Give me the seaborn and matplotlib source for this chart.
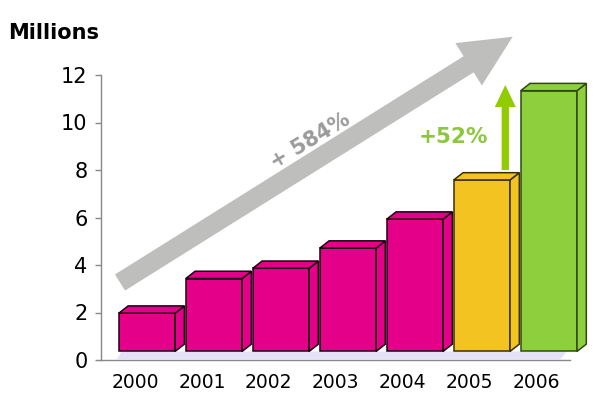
import matplotlib
matplotlib.use("Agg")
import matplotlib.pyplot as plt
import seaborn as sns
import numpy as np
import pandas as pd
from matplotlib.patches import Polygon, FancyArrow

# ---- data ----
years = ["2000", "2001", "2002", "2003", "2004", "2005", "2006"]
values = [1.61, 3.07, 3.50, 4.35, 5.57, 7.22, 10.98]
bar_colors = ["#E5008A", "#E5008A", "#E5008A", "#E5008A", "#E5008A", "#F3C421", "#8ECF3E"]
edge_colors = ["#1a0010", "#1a0010", "#1a0010", "#1a0010", "#1a0010", "#3a2e00", "#2f4a10"]
y_ticks = [0, 2, 4, 6, 8, 10, 12]
total_growth_label = "+ 584%"
last_growth_label = "+52%"
unit_label = "Millions"

sns.set_style("white")
plt.rcParams["font.family"] = ["DejaVu Sans"]

W, H = 600, 401
fig = plt.figure(figsize=(6, 4.01), dpi=100)
ax = fig.add_axes([101.4 / W, 41 / H, (570.3 - 101.4) / W, 285 / H])

df = pd.DataFrame({"year": years, "value": values})
sns.barplot(data=df, x="year", y="value", hue="year", palette=bar_colors,
            legend=False, width=0.84, ax=ax, linewidth=1.1, saturation=1)

floor = 0.36      # 3D floor height
shift = 0.18      # front face offset
ddx = 0.139       # depth offset x (category units)
ddy = 0.307       # depth offset y (data units)

for i, p in enumerate(list(ax.patches)):
    x0 = p.get_x() + shift
    w = p.get_width()
    h = p.get_height()
    p.set_x(x0)
    p.set_y(floor)
    p.set_edgecolor(edge_colors[i])
    p.set_zorder(3)
    p.set_clip_on(False)
    top = floor + h
    col = bar_colors[i]
    side = Polygon([(x0 + w, floor), (x0 + w + ddx, floor + ddy),
                    (x0 + w + ddx, top + ddy), (x0 + w, top)],
                   closed=True, facecolor=col, edgecolor=edge_colors[i], lw=1.1,
                   zorder=3, clip_on=False)
    topf = Polygon([(x0, top), (x0 + ddx, top + ddy), (x0 + w + ddx, top + ddy),
                    (x0 + w, top)],
                   closed=True, facecolor=col, edgecolor=edge_colors[i], lw=1.1,
                   zorder=3, clip_on=False)
    ax.add_patch(side)
    ax.add_patch(topf)

# floor shadow
shadow = Polygon([(-0.27, 0.03), (6.35, 0.03), (6.45, floor), (-0.2, floor)],
                 closed=True, facecolor="#DCD8F6", edgecolor="none", alpha=0.75,
                 zorder=1, clip_on=False)
ax.add_patch(shadow)

ax.set_xlim(-0.5, 6.5)
ax.set_ylim(0, 12)
ax.set_yticks(y_ticks)
ax.set_yticklabels([str(t) for t in y_ticks], fontsize=15, color="black")
ax.set_xticks(range(len(years)))
ax.set_xticklabels(years, fontsize=13.5, color="black")
ax.set_xticks(np.arange(-0.5, len(years), 1), minor=True)
ax.tick_params(axis="x", which="major", length=0, pad=9, labelcolor="black")
ax.tick_params(axis="x", which="minor", length=5, width=1, color="#888888", direction="out")
ax.tick_params(axis="y", which="major", length=4, width=1, color="#888888", direction="out",
               pad=6, left=True, labelcolor="black")
ax.set_xlabel("")
ax.set_ylabel("")
for s in ["top", "right"]:
    ax.spines[s].set_visible(False)
for s in ["left", "bottom"]:
    ax.spines[s].set_color("#888888")
    ax.spines[s].set_linewidth(1)
ax.grid(False)
ax.set_facecolor("none")

# overlay for annotation arrows (pixel coordinates)
ov = fig.add_axes([0, 0, 1, 1], zorder=5)
ov.set_xlim(0, W)
ov.set_ylim(H, 0)
ov.axis("off")
ov.patch.set_alpha(0)

tail = (120, 282.5)
tip = (512.7, 36.7)
ov.add_patch(FancyArrow(tail[0], tail[1], tip[0] - tail[0], tip[1] - tail[1],
                        width=19, head_width=50, head_length=52,
                        length_includes_head=True, color="#BEBFBD", lw=0))
ov.text(310, 141, total_growth_label, rotation=31, rotation_mode="anchor",
        ha="center", va="center", fontsize=15, fontweight="bold", color="#9B9B9B")

ov.add_patch(FancyArrow(505.3, 170, 0, 85 - 170, width=7.3, head_width=21,
                        head_length=22, length_includes_head=True,
                        color="#92CC00", lw=0))
ov.text(453.5, 137, last_growth_label, ha="center", va="center", fontsize=15.5,
        fontweight="bold", color="#8DC63F")

fig.text(8 / W, 1 - 33 / H, unit_label, ha="left", va="center", fontsize=15,
         fontweight="bold", color="black")

fig.savefig("out.png", dpi=100)
